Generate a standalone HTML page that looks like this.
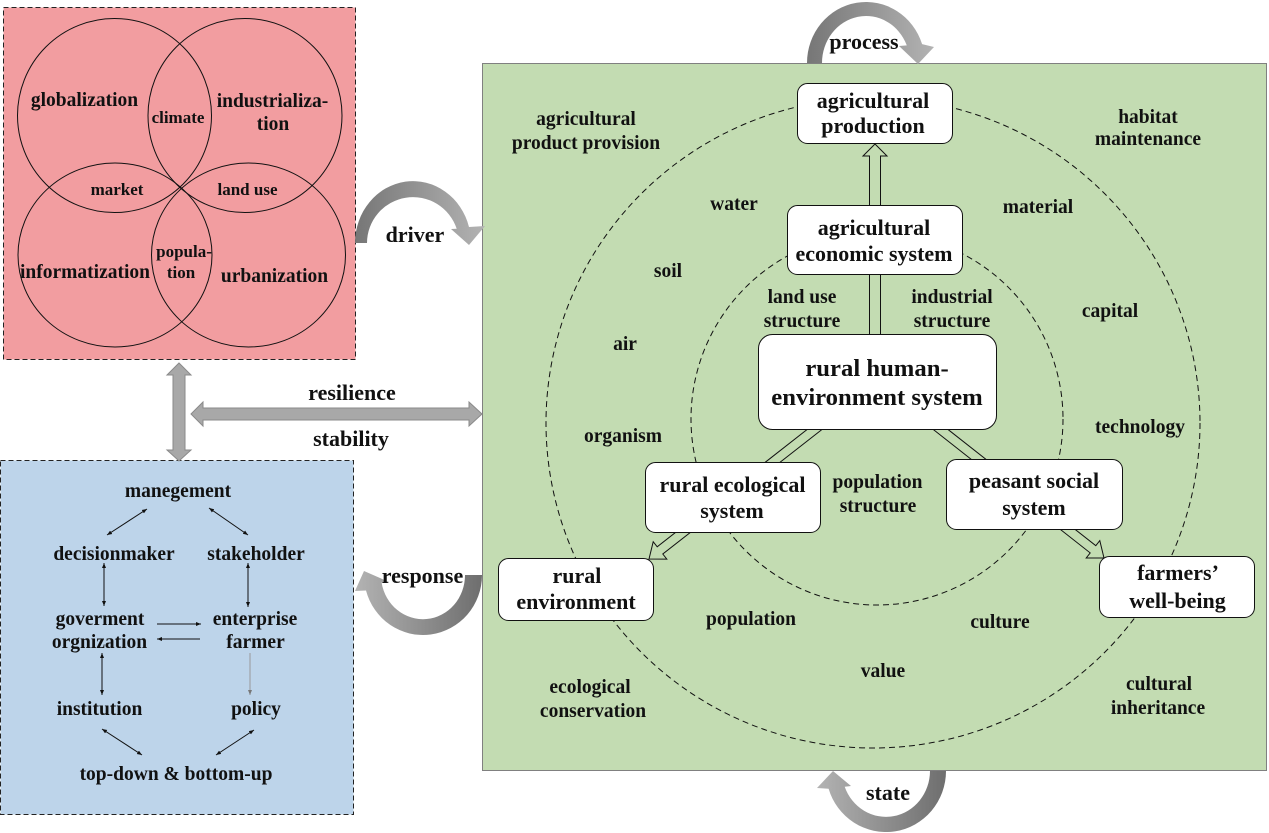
<!DOCTYPE html>
<html><head><meta charset="utf-8"><style>
html,body{margin:0;padding:0;background:#fff;}
svg{display:block;}
text{font-family:"Liberation Serif",serif;font-weight:bold;fill:#111;text-anchor:middle;}
</style></head><body>
<svg width="1269" height="833" viewBox="0 0 1269 833" xmlns="http://www.w3.org/2000/svg">
<defs>
<linearGradient id="gL2R" x1="0" y1="0" x2="1" y2="0"><stop offset="0" stop-color="#767676"/><stop offset="1" stop-color="#b3b3b3"/></linearGradient>
<linearGradient id="gR2L" x1="0" y1="0" x2="1" y2="0"><stop offset="0" stop-color="#b3b3b3"/><stop offset="1" stop-color="#6e6e6e"/></linearGradient>
<marker id="ah" viewBox="0 0 10 10" refX="10" refY="5" markerWidth="5" markerHeight="5" orient="auto-start-reverse" markerUnits="userSpaceOnUse"><path d="M0,1 L10,5 L0,9 Z" fill="#111"/></marker>
<marker id="ahg" viewBox="0 0 10 10" refX="10" refY="5" markerWidth="5" markerHeight="5" orient="auto-start-reverse" markerUnits="userSpaceOnUse"><path d="M0,1 L10,5 L0,9 Z" fill="#777"/></marker>
</defs>

<!-- Pink box -->
<rect x="3.5" y="7.5" width="352" height="352" fill="#f29da0" stroke="#222" stroke-width="1" stroke-dasharray="5,3"/>
<g fill="none" stroke="#111" stroke-width="1">
<circle cx="114.5" cy="115.5" r="97"/>
<circle cx="245" cy="115.5" r="97"/>
<ellipse cx="115" cy="255" rx="97" ry="92"/>
<ellipse cx="248.5" cy="255" rx="97" ry="92"/>
</g>
<text x="84.5" y="106" font-size="19.5">globalization</text>
<text x="178" y="123" font-size="17">climate</text>
<text x="272.5" y="107" font-size="19.5">industrializa-</text>
<text x="273" y="130" font-size="19.5">tion</text>
<text x="117" y="195" font-size="17">market</text>
<text x="247.5" y="195" font-size="17">land use</text>
<text x="184" y="257" font-size="17">popula-</text>
<text x="181" y="278" font-size="17">tion</text>
<text x="85" y="278" font-size="19.5">informatization</text>
<text x="274.5" y="282" font-size="19.5">urbanization</text>

<!-- Blue box -->
<rect x="0.5" y="460.5" width="353" height="354" fill="#bdd4ea" stroke="#222" stroke-width="1" stroke-dasharray="5,3"/>
<text x="178" y="497" font-size="19.5">manegement</text>
<text x="114" y="560" font-size="19.5">decisionmaker</text>
<text x="256" y="560" font-size="19.5">stakeholder</text>
<text x="100" y="625" font-size="19.5">goverment</text>
<text x="99.5" y="648" font-size="19.5">orgnization</text>
<text x="255" y="625" font-size="19.5">enterprise</text>
<text x="255.5" y="648" font-size="19.5">farmer</text>
<text x="99.5" y="715" font-size="19.5">institution</text>
<text x="256" y="715" font-size="19.5">policy</text>
<text x="176" y="780" font-size="19.5">top-down &amp; bottom-up</text>
<g stroke="#111" stroke-width="1" fill="none">
<line x1="147" y1="509" x2="107" y2="535" marker-start="url(#ah)" marker-end="url(#ah)"/>
<line x1="209" y1="508" x2="248" y2="535" marker-start="url(#ah)" marker-end="url(#ah)"/>
<line x1="104" y1="563" x2="104" y2="606" marker-start="url(#ah)" marker-end="url(#ah)"/>
<line x1="248" y1="563" x2="248" y2="607" marker-start="url(#ah)" marker-end="url(#ah)"/>
<line x1="157" y1="624" x2="201" y2="624" marker-end="url(#ah)"/>
<line x1="200" y1="639" x2="157" y2="639" marker-end="url(#ah)"/>
<line x1="102" y1="653" x2="102" y2="695" marker-start="url(#ah)" marker-end="url(#ah)"/>
<line x1="102" y1="729" x2="142" y2="755" marker-start="url(#ah)" marker-end="url(#ah)"/>
<line x1="254" y1="730" x2="216" y2="755" marker-start="url(#ah)" marker-end="url(#ah)"/>
</g>
<line x1="250" y1="653" x2="250" y2="695" stroke="#999" stroke-width="1" marker-end="url(#ahg)"/>

<!-- Green box -->
<rect x="482.5" y="63.5" width="784" height="707" fill="#c3dcb2" stroke="#808080" stroke-width="1"/>
<g fill="none" stroke="#111" stroke-width="1" stroke-dasharray="6,4">
<ellipse cx="873" cy="423" rx="327" ry="325"/>
<circle cx="877" cy="419" r="186"/>
</g>

<!-- hollow arrows -->
<g fill="none" stroke="#111" stroke-width="1">
<path d="M869.5 334 L869.5 156 L863 156 L875 144 L887 156 L880.5 156 L880.5 334"/>
<path d="M821.8 429.6 L662.8 554 L666.8 559.1 L649 559 L653.2 541.7 L657.2 546.8 L816.2 422.4"/>
<path d="M933.3 429.5 L1090.2 552.9 L1086.2 558 L1104 558 L1099.8 540.6 L1095.8 545.7 L938.9 422.3"/>
</g>

<!-- white boxes -->
<g fill="#fff" stroke="#111" stroke-width="1">
<rect x="797.5" y="83.5" width="155" height="60" rx="10"/>
<rect x="787.5" y="205.5" width="175" height="69" rx="10"/>
<rect x="758.5" y="334.5" width="238" height="95" rx="14"/>
<rect x="645.5" y="462.5" width="175" height="70" rx="10"/>
<rect x="946.5" y="459.5" width="176" height="70" rx="10"/>
<rect x="498.5" y="558.5" width="155" height="62" rx="10"/>
<rect x="1099.5" y="556.5" width="155" height="61" rx="10"/>
</g>
<text x="873" y="108" font-size="22">agricultural</text>
<text x="873" y="133" font-size="22">production</text>
<text x="874" y="235" font-size="22">agricultural</text>
<text x="874" y="261" font-size="22">economic system</text>
<text x="877" y="376" font-size="24.7">rural human-</text>
<text x="877" y="405" font-size="24.7">environment system</text>
<text x="732.5" y="492" font-size="22">rural ecological</text>
<text x="732" y="518" font-size="22">system</text>
<text x="1034" y="488" font-size="22">peasant social</text>
<text x="1034" y="515" font-size="22">system</text>
<text x="577" y="583" font-size="22">rural</text>
<text x="576" y="609" font-size="22">environment</text>
<text x="1178" y="580" font-size="22">farmers’</text>
<text x="1177.5" y="608" font-size="22">well-being</text>

<!-- green labels -->
<text x="586" y="125" font-size="19.5">agricultural</text>
<text x="586" y="149" font-size="19.5">product provision</text>
<text x="734" y="210" font-size="19.5">water</text>
<text x="668" y="277" font-size="19.5">soil</text>
<text x="625" y="350" font-size="19.5">air</text>
<text x="623" y="442" font-size="19.5">organism</text>
<text x="802" y="303" font-size="19.5">land use</text>
<text x="802" y="327" font-size="19.5">structure</text>
<text x="952" y="303" font-size="19.5">industrial</text>
<text x="952" y="327" font-size="19.5">structure</text>
<text x="877.5" y="488" font-size="19.5">population</text>
<text x="878" y="512" font-size="19.5">structure</text>
<text x="1038" y="213" font-size="19.5">material</text>
<text x="1148" y="123" font-size="19.5">habitat</text>
<text x="1148" y="145" font-size="19.5">maintenance</text>
<text x="1110" y="317" font-size="19.5">capital</text>
<text x="1140" y="433" font-size="19.5">technology</text>
<text x="751" y="625" font-size="19.5">population</text>
<text x="1000" y="628" font-size="19.5">culture</text>
<text x="883" y="677" font-size="19.5">value</text>
<text x="590" y="693" font-size="19.5">ecological</text>
<text x="593" y="717" font-size="19.5">conservation</text>
<text x="1159" y="690" font-size="19.5">cultural</text>
<text x="1158" y="714" font-size="19.5">inheritance</text>

<!-- gray straight arrows -->
<g fill="#a8a8a8" stroke="#8a8a8a" stroke-width="1">
<path d="M179 363 L191 375 L185 375 L185 450 L191 450 L179 461 L167 450 L173 450 L173 375 L167 375 Z"/>
<path d="M191 414 L203 402 L203 408 L469 408 L469 402 L482 414 L469 426 L469 420 L203 420 L203 426 Z"/>
</g>
<text x="352" y="400" font-size="22">resilience</text>
<text x="351" y="446" font-size="22">stability</text>

<!-- curved arrows -->
<path d="M807 63 A59 61 0 0 1 922.1 44.1 L934 47 L918 64 L899 46 L906.8 45.4 A44 47 0 0 0 822 63 Z" fill="url(#gL2R)"/>
<text x="864" y="49" font-size="22">process</text>

<path d="M355 243 A58 62 0 0 1 469 227 L485 226 L469 245 L451 229 L456.7 228.8 A46 46 0 0 0 367 243 Z" fill="url(#gL2R)"/>
<text x="415" y="242" font-size="22">driver</text>

<path d="M482 575 A59 60 0 0 1 366 590.5 L355 591 L364 571 L389 582 L381.6 582.6 A42 44 0 0 0 465 575 Z" fill="url(#gR2L)"/>
<text x="422.5" y="583" font-size="22">response</text>

<path d="M946 771 A60 61 0 0 1 828.6 788.8 L817 788 L833 771 L851 786 L844.7 786.7 A44 46 0 0 0 930 771 Z" fill="url(#gR2L)"/>
<text x="888" y="800" font-size="22">state</text>
</svg>
</body></html>
